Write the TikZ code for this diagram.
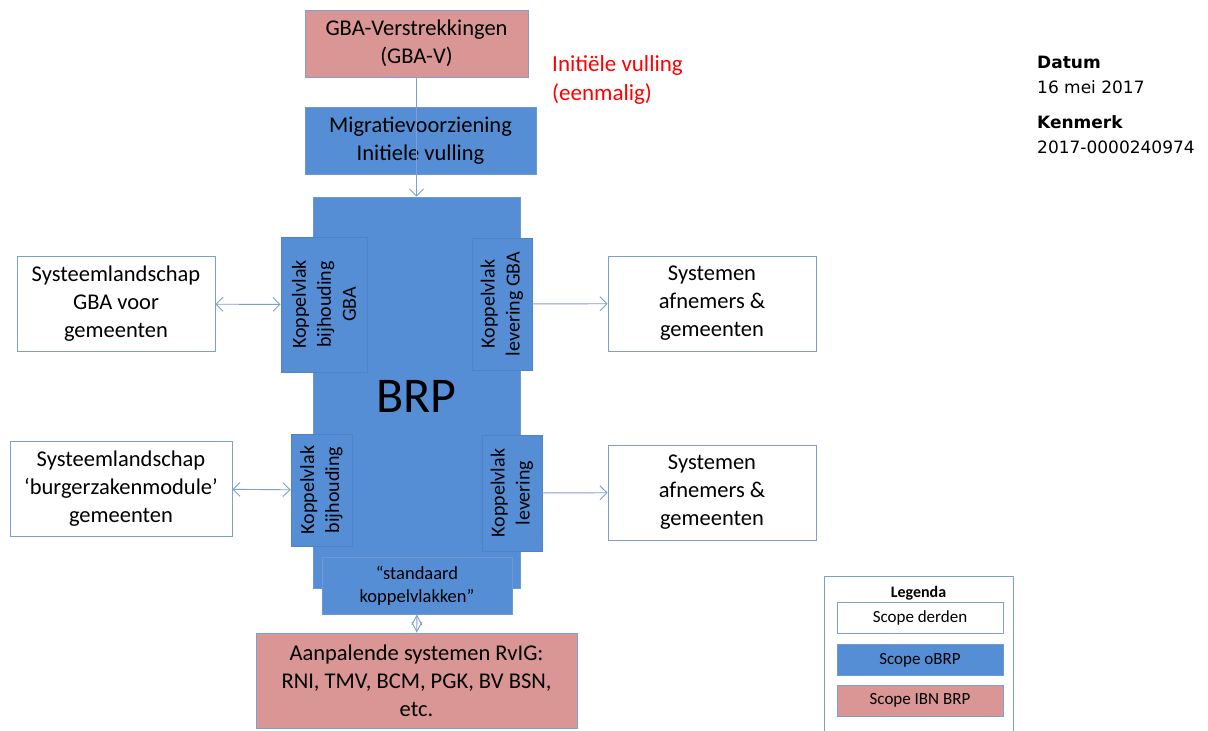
\documentclass[tikz,border=0pt]{standalone}
\usepackage{fontspec}
\setmainfont{Carlito}
\newfontfamily\verdanafont{DejaVu Sans}
\usepackage{tikz}
\usetikzlibrary{arrows.meta, positioning}
\definecolor{obrpblue}{HTML}{558ED5}
\definecolor{ibnpink}{HTML}{D99694}
\definecolor{lineblue}{HTML}{7F9FD3}
\definecolor{kvborder}{HTML}{4A7EBB}
\definecolor{vullingred}{HTML}{FF0000}

\begin{document}
\begin{tikzpicture}[
  x=1pt, y=-1pt,
  base/.style={rectangle, inner sep=0pt, align=center, line width=0.9pt},
  ext/.style={base, draw=lineblue, fill=white, font=\fontsize{22.5}{28}\selectfont},
  obrp/.style={base, draw=lineblue!60!obrpblue, fill=obrpblue, font=\fontsize{22.5}{28}\selectfont},
  ibn/.style={base, draw=lineblue, fill=ibnpink, font=\fontsize{22.5}{28}\selectfont},
  kv/.style={base, draw=kvborder!60!obrpblue, fill=obrpblue, rotate=90,
             font=\fontsize{20}{25}\selectfont},
  legitem/.style={base, minimum width=166pt, minimum height=31pt,
                  font=\fontsize{17}{20}\selectfont},
  arrow/.style={-{Straight Barb[length=7pt, width=14pt]}, draw=lineblue, line width=0.9pt},
  darrow/.style={{Straight Barb[length=7pt, width=14pt]}-{Straight Barb[length=7pt, width=14pt]},
                 draw=lineblue, line width=0.9pt},
  ruit/.style={{Straight Barb[length=9.5pt, width=10pt]}-{Straight Barb[length=9.5pt, width=10pt]},
               draw=lineblue, line width=0.9pt},
  meta/.style={font=\verdanafont\fontsize{17}{25}\selectfont, align=left, inner sep=0pt}
]
  \useasboundingbox (0,0) rectangle (1208,731);

  % bron en initiele vulling
  \node[ibn, minimum width=223pt, minimum height=67pt] (gbav) at (416.5,43.5) {GBA-Verstrekkingen\\(GBA-V)};
  \node[anchor=west, align=left, inner sep=0pt, text=vullingred,
        font=\fontsize{23}{29}\selectfont] (vulling) at (552,80) {Initiële vulling\\(eenmalig)};
  \node[obrp, minimum width=231pt, minimum height=67pt] (migratie) at (420.5,140.5) {Migratievoorziening\\Initiele vulling};

  % BRP met koppelvlakken
  \node[obrp, minimum width=207pt, minimum height=391pt] (brp) at (416.5,392.5) {};
  \node[inner sep=0pt, font=\fontsize{50}{50}\selectfont] (brplabel) at (416.5,396.5) {BRP};
  \node[kv, minimum width=135pt, minimum height=86pt] (kvbijhgba) at (324,304.5) {Koppelvlak\\bijhouding\\GBA};
  \node[kv, minimum width=132pt, minimum height=60pt] (kvlevgba) at (502,304) {Koppelvlak\\levering GBA};
  \node[kv, minimum width=112pt, minimum height=61pt] (kvbijh) at (321.5,490) {Koppelvlak\\bijhouding};
  \node[kv, minimum width=116pt, minimum height=60pt] (kvlev) at (512,493) {Koppelvlak\\levering};
  \node[obrp, minimum width=190pt, minimum height=57pt,
        font=\fontsize{18.5}{23}\selectfont] (standaard) at (417,585.5) {“standaard\\koppelvlakken”};
  \node[ibn, minimum width=321pt, minimum height=95pt] (aanpalend) at (416.5,680.5) {Aanpalende systemen RvIG:\\RNI, TMV, BCM, PGK, BV BSN,\\etc.};

  % systemen van derden
  \node[ext, minimum width=198pt, minimum height=95pt] (sysgba) at (116,304) {Systeemlandschap\\GBA voor\\gemeenten};
  \node[ext, minimum width=222pt, minimum height=95pt] (sysbzm) at (121,488.5) {Systeemlandschap\\‘burgerzakenmodule’\\gemeenten};
  \node[ext, minimum width=208pt, minimum height=95pt] (afnemers1) at (712,303.5) {Systemen\\afnemers \&\\gemeenten};
  \node[ext, minimum width=208pt, minimum height=95pt] (afnemers2) at (712,492.5) {Systemen\\afnemers \&\\gemeenten};

  \draw[arrow] (gbav) -- (brp);
  \draw[darrow] (sysgba) -- (kvbijhgba);
  \draw[arrow] (kvlevgba) -- (afnemers1);
  \draw[darrow] (sysbzm) -- (kvbijh);
  \draw[arrow] (kvlev) -- (afnemers2);
  \draw[ruit] (standaard) -- (aanpalend);

  % legenda
  \node[base, draw=lineblue, minimum width=189pt, minimum height=170pt, anchor=north west] (legenda) at (824,576) {};
  \node[anchor=base, inner sep=0pt, font=\bfseries\fontsize{16}{18}\selectfont] (legtitel) at (918.5,597) {Legenda};
  \node[legitem, draw=lineblue, fill=white, anchor=north] (legderden) at (920,602) {Scope derden};
  \node[legitem, draw=lineblue!60!obrpblue, fill=obrpblue, below=10pt of legderden] (legobrp) {Scope oBRP};
  \node[legitem, draw=lineblue, fill=ibnpink, below=9pt of legobrp] (legibn) {Scope IBN BRP};

  % kenmerken van de brief
  \node[meta, anchor=north west] (kenmerk) at (1037,55.6)
    {\textbf{Datum}\\16 mei 2017\\[10pt]\textbf{Kenmerk}\\2017-0000240974};
\end{tikzpicture}
\end{document}
